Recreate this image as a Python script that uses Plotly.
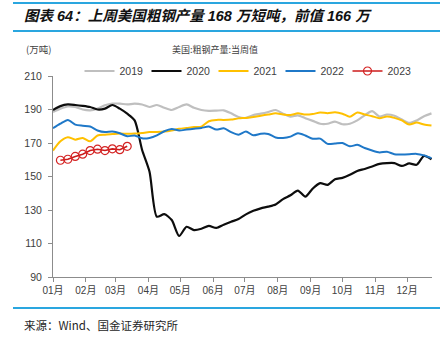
import pandas as pd
import plotly.graph_objects as go

# Weekly US crude steel output (10k short tons), one point per week of the year
weeks = pd.date_range("2021-01-01", periods=52, freq="7D")

y2019 = [188.5, 190.5, 191.8, 191.5, 190.0, 189.5, 190.5, 192.5, 193.5, 193.5,
         193.0, 193.5, 193.0, 191.5, 192.7, 191.0, 189.7, 191.5, 193.0, 191.0,
         189.7, 189.2, 189.3, 189.5, 187.7, 185.5, 185.0, 186.7, 187.5, 188.5,
         189.7, 187.5, 185.7, 186.5, 184.8, 183.2, 181.5, 181.5, 182.8, 181.2,
         181.5, 183.5, 186.5, 189.0, 185.8, 187.0, 186.3, 184.0, 182.0, 183.5,
         186.0, 187.7]

y2020 = [189.7, 192.0, 193.0, 192.7, 192.2, 191.5, 190.0, 190.5, 192.7, 190.5,
         187.5, 183.5, 166.0, 153.0, 126.0, 127.5, 124.0, 114.5, 120.0, 118.0,
         118.8, 120.5, 119.3, 121.2, 123.0, 124.6, 127.4, 129.5, 131.0, 132.0,
         133.3, 136.5, 138.8, 141.6, 138.0, 142.8, 146.0, 145.0, 148.4, 149.2,
         151.0, 153.3, 154.5, 156.0, 157.5, 158.0, 158.0, 156.3, 157.8, 157.0,
         162.3, 160.3]

y2021 = [165.5, 171.0, 173.5, 172.0, 173.0, 171.0, 174.5, 175.0, 175.3, 175.6,
         175.5, 175.6, 176.0, 176.5, 176.5, 176.8, 177.5, 178.5, 179.0, 179.5,
         179.8, 183.0, 183.8, 183.8, 184.0, 184.7, 185.0, 185.5, 186.3, 187.0,
         187.7, 187.0, 186.7, 187.7, 187.0, 187.3, 188.2, 187.8, 188.3, 187.5,
         185.7, 188.2, 187.0, 186.0, 184.8, 185.8, 185.0, 183.5, 181.0, 182.2,
         181.0, 180.4]

y2022 = [178.8, 181.5, 183.8, 181.0, 180.3, 179.8, 177.5, 176.5, 176.8, 175.8,
         174.0, 174.5, 172.8, 173.0, 174.5, 177.0, 178.3, 177.5, 178.0, 178.5,
         179.0, 179.8, 178.0, 178.8, 176.5, 175.0, 176.8, 174.6, 175.5, 175.4,
         173.3, 173.0, 173.8, 175.8, 174.5, 172.5, 172.6, 169.5, 169.7, 170.0,
         168.0, 168.9, 167.0, 165.5, 164.4, 164.8, 163.3, 163.2, 163.3, 163.5,
         162.6, 161.0]

y2023 = [159.7, 160.3, 162.0, 163.3, 165.5, 166.3, 165.5, 166.5, 166.0, 168.0]
x2023 = weeks[1:1 + len(y2023)]

month_ticks = pd.date_range("2021-01-01", periods=12, freq="MS")
month_labels = ["01月", "02月", "03月", "04月", "05月", "06月",
                "07月", "08月", "09月", "10月", "11月", "12月"]

# Page geometry (pixels)
W, H = 440, 348
ML, MR, MT, MB = 53, 8, 76, 71
PW, PH = W - ML - MR, H - MT - MB


def px(x):
    return (x - ML) / PW


def py(y):
    return (H - MB - y) / PH


CJK = "Noto Sans CJK SC"
LAT = "Liberation Sans, Arial"
ACCENT = "#2AA6DF"

fig = go.Figure()

series = [
    ("2019", weeks, y2019, "#BFBFBF", 2.2),
    ("2020", weeks, y2020, "#0D0D0D", 2.2),
    ("2021", weeks, y2021, "#FFC000", 2.0),
    ("2022", weeks, y2022, "#1F78C8", 2.0),
]
for name, xs, ys, color, width in series:
    fig.add_trace(go.Scatter(
        x=xs, y=ys, name=name, mode="lines",
        line=dict(color=color, width=width, shape="spline", smoothing=0.7),
    ))

fig.add_trace(go.Scatter(
    x=x2023, y=y2023, name="2023", mode="lines+markers",
    line=dict(color="#CC1B1B", width=1.6),
    marker=dict(symbol="circle-open", size=8, color="#D42424",
                line=dict(width=1.2, color="#D42424")),
))

fig.update_layout(
    width=W, height=H,
    margin=dict(l=ML, r=MR, t=MT, b=MB),
    paper_bgcolor="white", plot_bgcolor="white",
    font=dict(family=LAT, size=10, color="#404040"),
    showlegend=True,
    legend=dict(
        orientation="h", x=px(247), y=py(71), xanchor="center", yanchor="middle",
        font=dict(family=LAT, size=10.5, color="#404040"),
        entrywidth=22, entrywidthmode="pixels", itemwidth=30,
        bgcolor="rgba(0,0,0,0)", tracegroupgap=0,
    ),
    xaxis=dict(
        range=["2021-01-01", "2021-12-24 12:00"],
        tickvals=month_ticks, ticktext=month_labels,
        tickfont=dict(family=LAT + ", " + CJK, size=10, color="#404040"),
        showgrid=False, zeroline=False,
        showline=True, linecolor="#8C8C8C", linewidth=1,
        ticks="outside", ticklen=4, tickcolor="#8C8C8C",
    ),
    yaxis=dict(
        range=[90, 210], dtick=20, tick0=90,
        tickfont=dict(family=LAT, size=10.5, color="#404040"),
        showgrid=False, zeroline=False,
        showline=True, linecolor="#8C8C8C", linewidth=1,
        ticks="outside", ticklen=4, tickcolor="#8C8C8C",
        ticklabelstandoff=4,
    ),
)

# Decorative rules above/below the heading and above the source line
for yy in (3, 31, 308):
    fig.add_shape(type="line", xref="paper", yref="paper",
                  x0=px(13), x1=px(440), y0=py(yy), y1=py(yy),
                  line=dict(color=ACCENT, width=2))

annotations = [
    dict(text="<b><i>图表 64：上周美国粗钢产量 168 万短吨，前值 166 万</i></b>",
         x=px(22), y=py(16), xanchor="left",
         font=dict(family=LAT + ", " + CJK, size=14.5, color="#111111")),
    dict(text="(万吨)", x=px(24), y=py(49), xanchor="left",
         font=dict(family=CJK, size=9.5, color="#404040")),
    dict(text="美国:粗钢产量:当周值", x=px(215), y=py(49), xanchor="center",
         font=dict(family=CJK, size=9, color="#404040")),
    dict(text="来源：Wind、国金证券研究所", x=px(22), y=py(325), xanchor="left",
         font=dict(family=CJK, size=11.5, color="#262626")),
]
for a in annotations:
    fig.add_annotation(xref="paper", yref="paper", yanchor="middle",
                       showarrow=False, **a)

fig.write_html("out.html")
